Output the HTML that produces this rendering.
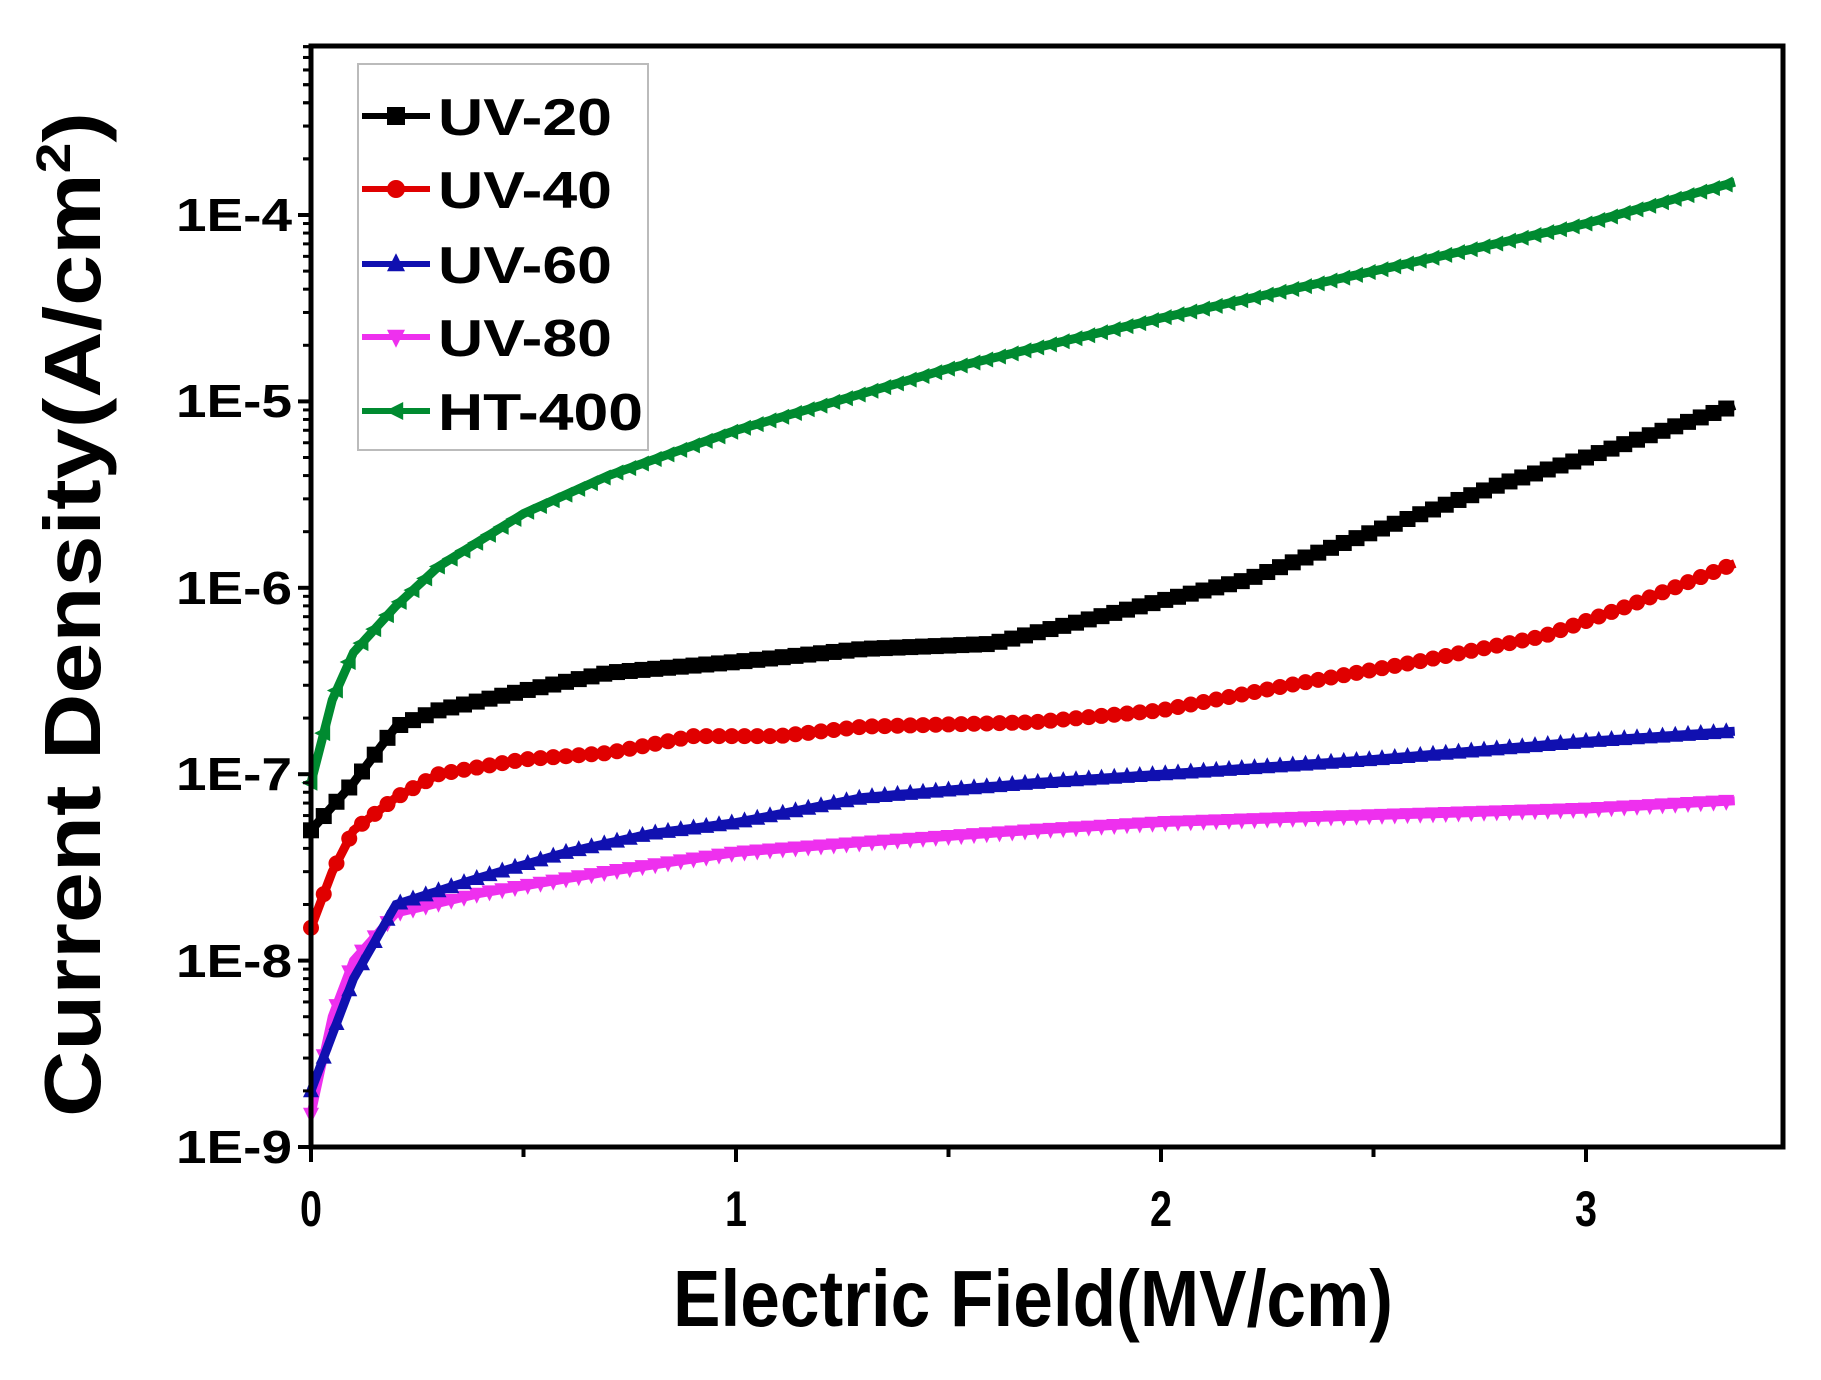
<!DOCTYPE html>
<html><head><meta charset="utf-8"><style>
html,body{margin:0;padding:0;background:#fff}
svg{display:block}
text{font-family:"Liberation Sans",Arial,sans-serif;font-weight:bold;fill:#000}
</style></head><body>
<svg id="s" width="1821" height="1380" viewBox="0 0 1821 1380" xmlns="http://www.w3.org/2000/svg">
<g id="data"></g>
<rect x="311" y="46" width="1472" height="1101" fill="none" stroke="#000" stroke-width="5"/>
<g id="ticks" stroke="#000" stroke-width="4"></g>
<g font-size="46" text-anchor="end">
<text x="292" y="231" textLength="116" lengthAdjust="spacingAndGlyphs">1E-4</text>
<text x="292" y="417" textLength="116" lengthAdjust="spacingAndGlyphs">1E-5</text>
<text x="292" y="604" textLength="116" lengthAdjust="spacingAndGlyphs">1E-6</text>
<text x="292" y="790" textLength="116" lengthAdjust="spacingAndGlyphs">1E-7</text>
<text x="292" y="977" textLength="116" lengthAdjust="spacingAndGlyphs">1E-8</text>
<text x="292" y="1163" textLength="116" lengthAdjust="spacingAndGlyphs">1E-9</text>
</g>
<g font-size="50" text-anchor="middle">
<text x="311" y="1226" textLength="22" lengthAdjust="spacingAndGlyphs">0</text><text x="736" y="1226" textLength="22" lengthAdjust="spacingAndGlyphs">1</text><text x="1161" y="1226" textLength="22" lengthAdjust="spacingAndGlyphs">2</text><text x="1586" y="1226" textLength="22" lengthAdjust="spacingAndGlyphs">3</text>
</g>
<text x="673" y="1326" font-size="80" textLength="720" lengthAdjust="spacingAndGlyphs">Electric Field(MV/cm)</text>
<text transform="translate(100,1117) rotate(-90)" font-size="80" textLength="1005" lengthAdjust="spacingAndGlyphs">Current Density(A/cm<tspan dy="-30" font-size="48">2</tspan><tspan dy="30">)</tspan></text>
<rect x="358" y="64" width="290" height="386" fill="#fff" stroke="#bbb" stroke-width="2"/>
<g id="leg"></g>
</svg>
<script>
const NS="http://www.w3.org/2000/svg";
const X=v=>311+425*v, Y=v=>1147-186.4*(Math.log10(v)+9);
const series=[
{c:"#008a30",m:"ltri",d:[[0,9e-8],[0.05,2.5e-7],[0.1,4.5e-7],[0.2,8e-7],[0.3,1.3e-6],[0.5,2.5e-6],[0.7,4e-6],[1.0,7e-6],[1.5,1.5e-5],[2.0,2.8e-5],[2.5,5e-5],[3.0,9e-5],[3.35,1.5e-4]]},
{c:"#000",m:"sq",d:[[0,5e-8],[0.1,9e-8],[0.2,1.8e-7],[0.3,2.2e-7],[0.5,2.8e-7],[0.7,3.5e-7],[1.0,4e-7],[1.3,4.7e-7],[1.6,5e-7],[1.8,6.5e-7],[2.0,8.5e-7],[2.2,1.1e-6],[2.5,2e-6],[2.8,3.6e-6],[3.0,5e-6],[3.35,9.5e-6]]},
{c:"#e00000",m:"ci",d:[[0,1.5e-8],[0.05,3e-8],[0.1,5e-8],[0.2,7.5e-8],[0.3,1e-7],[0.5,1.2e-7],[0.7,1.3e-7],[0.9,1.6e-7],[1.1,1.6e-7],[1.3,1.8e-7],[1.7,1.9e-7],[2.0,2.2e-7],[2.3,3e-7],[2.6,4e-7],[2.9,5.5e-7],[3.1,8e-7],[3.35,1.35e-6]]},
{c:"#1010b0",m:"tri",d:[[0,2e-9],[0.05,4e-9],[0.1,8e-9],[0.2,2e-8],[0.4,2.8e-8],[0.6,3.8e-8],[0.8,4.8e-8],[1.0,5.5e-8],[1.3,7.5e-8],[1.7,9e-8],[2.0,1e-7],[2.5,1.2e-7],[3.0,1.5e-7],[3.35,1.7e-7]]},
{c:"#ee30ee",m:"itri",d:[[0,1.5e-9],[0.05,5e-9],[0.1,1e-8],[0.2,1.8e-8],[0.4,2.3e-8],[0.7,3e-8],[1.0,3.8e-8],[1.3,4.3e-8],[1.7,5e-8],[2.0,5.5e-8],[2.5,6e-8],[3.0,6.5e-8],[3.35,7.2e-8]]}
];
function interp(d,x){for(let i=1;i<d.length;i++){if(x<=d[i][0]){const a=d[i-1],b=d[i],t=(x-a[0])/(b[0]-a[0]);return Math.pow(10,Math.log10(a[1])+t*(Math.log10(b[1])-Math.log10(a[1])));}}return d[d.length-1][1];}
function marker(m,x,y,c,r){let e;
 if(m=="sq"){e=document.createElementNS(NS,"rect");e.setAttribute("x",x-r);e.setAttribute("y",y-r);e.setAttribute("width",2*r);e.setAttribute("height",2*r);}
 else if(m=="ci"){e=document.createElementNS(NS,"circle");e.setAttribute("cx",x);e.setAttribute("cy",y);e.setAttribute("r",r);}
 else{e=document.createElementNS(NS,"polygon");let p;
  if(m=="tri")p=[[x,y-r*1.2],[x-r,y+r*0.8],[x+r,y+r*0.8]];
  else if(m=="itri")p=[[x,y+r*1.2],[x-r,y-r*0.8],[x+r,y-r*0.8]];
  else p=[[x-r*1.2,y],[x+r*0.8,y-r],[x+r*0.8,y+r]];
  e.setAttribute("points",p.map(q=>q.join(",")).join(" "));}
 e.setAttribute("fill",c);return e;}
const g=document.getElementById("data");
series.slice().reverse().forEach(s=>{
 let pts=[];for(let x=0;x<=3.35001;x+=0.01)pts.push([X(x),Y(interp(s.d,x))]);
 const pl=document.createElementNS(NS,"polyline");pl.setAttribute("points",pts.map(p=>p.join(",")).join(" "));
 pl.setAttribute("fill","none");pl.setAttribute("stroke",s.c);pl.setAttribute("stroke-width","9");g.appendChild(pl);
 for(let x=0;x<=3.35001;x+=0.03)g.appendChild(marker(s.m,X(x),Y(interp(s.d,x)),s.c,8));
});
const t=document.getElementById("ticks");
function ln(x1,y1,x2,y2,w){const l=document.createElementNS(NS,"line");l.setAttribute("x1",x1);l.setAttribute("y1",y1);l.setAttribute("x2",x2);l.setAttribute("y2",y2);if(w)l.setAttribute("stroke-width",w);t.appendChild(l);}
for(let d=-9;d<=-4;d++){const y=Y(Math.pow(10,d));ln(298,y,311,y);for(let k=2;k<=9;k++){const yy=Y(k*Math.pow(10,d));if(yy>46)ln(303,yy,311,yy,3);}}
for(let k=2;k<=9;k++){const yy=Y(k*1e-4);if(yy>46)ln(303,yy,311,yy,3);}
for(let i=0;i<=7;i++){const x=X(i*0.5);if(x<1785)ln(x,1147,x,i%2?1157:1162);}
const lg=document.getElementById("leg");
[["UV-20","#000","sq",116],["UV-40","#e00000","ci",189],["UV-60","#1010b0","tri",264],["UV-80","#ee30ee","itri",337],["HT-400","#008a30","ltri",411]].forEach(([n,c,m,y])=>{
 const l=document.createElementNS(NS,"line");l.setAttribute("x1",362);l.setAttribute("x2",430);l.setAttribute("y1",y);l.setAttribute("y2",y);l.setAttribute("stroke",c);l.setAttribute("stroke-width",6);lg.appendChild(l);
 lg.appendChild(marker(m,396,y,c,9));
 const tx=document.createElementNS(NS,"text");tx.setAttribute("x",438);tx.setAttribute("y",y+19);tx.setAttribute("font-size","52");
 tx.setAttribute("textLength",n.length==5?174:205);tx.setAttribute("lengthAdjust","spacingAndGlyphs");tx.textContent=n;lg.appendChild(tx);
});
</script>
</body></html>
